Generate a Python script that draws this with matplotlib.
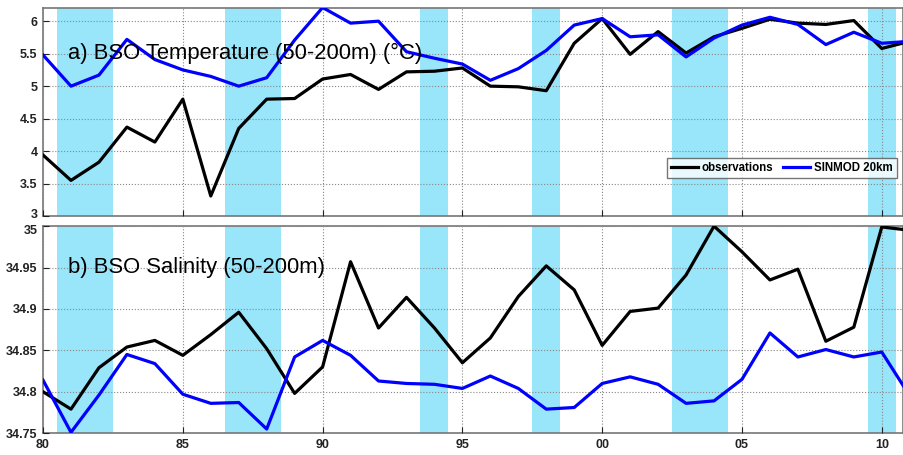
import matplotlib
matplotlib.use("Agg")
import matplotlib.pyplot as plt
import matplotlib.transforms as mtrans

plt.rcParams['font.family'] = ['Liberation Sans', 'DejaVu Sans']

# data
years = list(range(1980, 2012))

temp_obs = [3.94, 3.55, 3.83, 4.37, 4.14, 4.80, 3.31, 4.35, 4.80, 4.81,
            5.11, 5.18, 4.95, 5.22, 5.23, 5.28, 5.00, 4.99, 4.93, 5.66,
            6.04, 5.49, 5.84, 5.51, 5.76, 5.89, 6.03, 5.97, 5.95, 6.01,
            5.58, 5.69]
temp_mod = [5.48, 5.00, 5.17, 5.72, 5.41, 5.25, 5.15, 5.00, 5.13, 5.71,
            6.21, 5.97, 6.00, 5.53, 5.43, 5.34, 5.09, 5.27, 5.55, 5.94,
            6.04, 5.76, 5.79, 5.45, 5.74, 5.94, 6.06, 5.95, 5.64, 5.83,
            5.66, 5.69]

sal_obs = [34.800, 34.779, 34.829, 34.854, 34.862, 34.844, 34.869, 34.896, 34.852, 34.798,
           34.830, 34.957, 34.877, 34.914, 34.877, 34.835, 34.865, 34.915, 34.952, 34.923,
           34.856, 34.897, 34.901, 34.941, 35.000, 34.969, 34.935, 34.948, 34.861, 34.878,
           34.999, 34.995]
sal_mod = [34.814, 34.751, 34.796, 34.845, 34.834, 34.797, 34.786, 34.787, 34.755, 34.842,
           34.862, 34.844, 34.813, 34.810, 34.809, 34.804, 34.819, 34.804, 34.779, 34.781,
           34.810, 34.818, 34.809, 34.786, 34.789, 34.815, 34.871, 34.842, 34.851, 34.842,
           34.848, 34.795]

# shaded periods (start, end)
bands = [(1980.5, 1982.5), (1986.5, 1988.5), (1993.5, 1994.5),
         (1997.5, 1998.5), (2002.5, 2004.5), (2009.5, 2010.5)]

xticks = [1980, 1985, 1990, 1995, 2000, 2005, 2010]
xticklabels = ["80", "85", "90", "95", "00", "05", "10"]

temp_ticks = [3, 3.5, 4, 4.5, 5, 5.5, 6]
temp_labels = ["3", "3.5", "4", "4.5", "5", "5.5", "6"]
sal_ticks = [34.75, 34.8, 34.85, 34.9, 34.95, 35]
sal_labels = ["34.75", "34.8", "34.85", "34.9", "34.95", "35"]

band_col = "#99e5fa"

fig = plt.figure(figsize=(9.04, 4.55), dpi=100)
ax1 = fig.add_axes([0.0476, 0.525, 0.951, 0.457])
ax2 = fig.add_axes([0.0476, 0.048, 0.951, 0.455])


def style(ax, yt, yl, ylim, showx):
    for a, b in bands:
        ax.axvspan(a, b, color=band_col, lw=0, zorder=0)
    ax.set_xlim(1980, 2010.75)
    ax.set_ylim(*ylim)
    ax.set_xticks(xticks)
    if showx:
        ax.set_xticklabels(xticklabels)
    else:
        ax.set_xticklabels([])
    ax.set_yticks(yt)
    ax.set_yticklabels(yl)
    ax.grid(True, color="#888888", ls=":", lw=0.8)
    ax.set_axisbelow(False)
    ax.tick_params(direction="in", length=4, labelsize=9, pad=4, colors="#222222")
    for lab in ax.get_xticklabels() + ax.get_yticklabels():
        lab.set_fontweight("bold")
    for s in ax.spines.values():
        s.set_color("#777777")
        s.set_linewidth(1.2)


# a) temperature
style(ax1, temp_ticks, temp_labels, (3, 6.2), False)
ax1.plot(years, temp_obs, color="black", lw=2.3, label="observations", zorder=3)
ax1.plot(years, temp_mod, color="blue", lw=2.3, label="SINMOD 20km", zorder=3)
ax1.text(1980.9, 5.5, "a) BSO Temperature (50-200m) (°C)", fontsize=15.8,
         va="center", ha="left", zorder=4)
leg = ax1.legend(loc="lower right", ncol=2, prop={"weight": "bold", "size": 8.3},
                 frameon=True, fancybox=False, borderpad=0.35, handlelength=2.4,
                 handletextpad=0.3, columnspacing=0.8, bbox_to_anchor=(0.9995, 0.155))
leg.get_frame().set_edgecolor("#555555")
leg.get_frame().set_linewidth(1.0)

# b) salinity
style(ax2, sal_ticks, sal_labels, (34.75, 35), True)
ax2.plot(years, sal_obs, color="black", lw=2.3, zorder=3)
ax2.plot(years, sal_mod, color="blue", lw=2.3, zorder=3)
ax2.text(1980.9, 34.95, "b) BSO Salinity (50-200m)", fontsize=15.8,
         va="center", ha="left", zorder=4)

# keep the "3" and "35" labels at the panel joint from touching
lab3 = ax1.get_yticklabels()[0]
lab3.set_transform(lab3.get_transform() + mtrans.ScaledTranslation(0, 3 / 100, fig.dpi_scale_trans))
lab35 = ax2.get_yticklabels()[-1]
lab35.set_transform(lab35.get_transform() + mtrans.ScaledTranslation(0, -3 / 100, fig.dpi_scale_trans))

fig.savefig("out.png", dpi=100)
